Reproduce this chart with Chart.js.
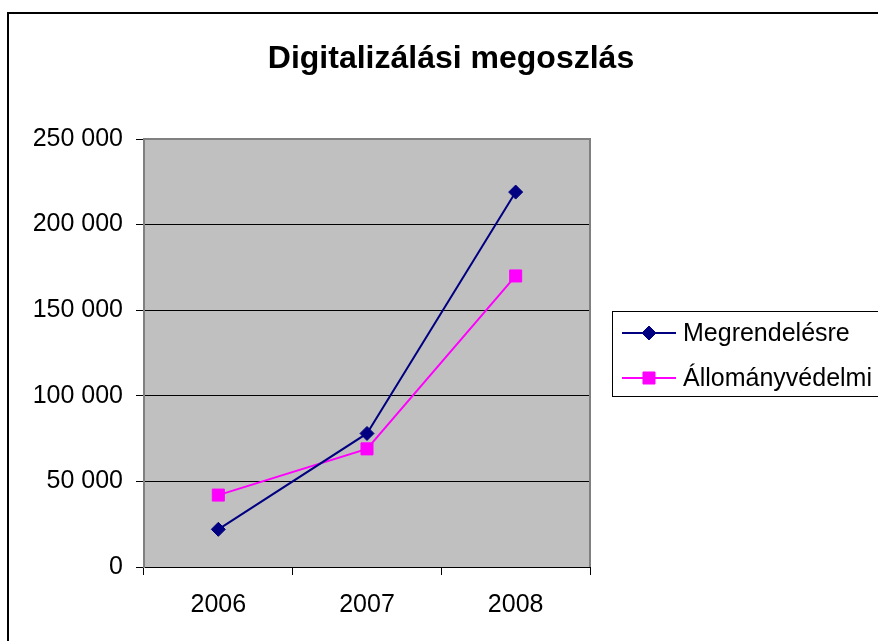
<!DOCTYPE html>
<html>
<head>
<meta charset="utf-8">
<script src="https://cdn.jsdelivr.net/npm/chart.js@4/dist/chart.umd.min.js"></script>
<style>
  html, body { margin: 0; padding: 0; background: #fff; }
  canvas { display: block; }
</style>
</head>
<body>
<canvas id="c" width="878" height="641"></canvas>
<script>
const TITLE = 'Digitalizálási megoszlás';
const categories = ['2006', '2007', '2008'];
const seriesNames = ['Megrendelésre', 'Állományvédelmi'];
const megrendelesre = [22000, 78000, 219000];
const allomanyvedelmi = [42000, 69000, 170000];
const yMin = 0, yMax = 250000, yStep = 50000;

const FONT = '"Liberation Sans", Arial, sans-serif';

function fmt(v) {
  return String(v).replace(/\B(?=(\d{3})+(?!\d))/g, ' ');
}

function marker(ctx, style, r, x, y, color) {
  ctx.save();
  ctx.fillStyle = color;
  ctx.strokeStyle = color;
  ctx.lineWidth = 1;
  ctx.beginPath();
  if (style === 'rectRot') {
    ctx.moveTo(x, y - r); ctx.lineTo(x + r, y); ctx.lineTo(x, y + r); ctx.lineTo(x - r, y);
  } else {
    const s = r * Math.SQRT1_2;
    ctx.rect(x - s, y - s, 2 * s, 2 * s);
  }
  ctx.closePath();
  ctx.fill();
  ctx.stroke();
  ctx.restore();
}

const decor = {
  id: 'decor',
  beforeDraw(chart) {
    const { ctx, chartArea: a } = chart;
    ctx.save();
    ctx.fillStyle = '#fff';
    ctx.fillRect(0, 0, chart.width, chart.height);
    ctx.fillStyle = '#C0C0C0';
    ctx.fillRect(a.left, a.top, a.right - a.left, a.bottom - a.top);
    ctx.restore();
  },
  beforeDatasetsDraw(chart) {
    const { ctx, chartArea: a } = chart;
    ctx.save();
    ctx.strokeStyle = '#808080';
    ctx.lineWidth = 2;
    ctx.beginPath();
    ctx.moveTo(a.left, a.top);
    ctx.lineTo(a.right, a.top);
    ctx.lineTo(a.right, a.bottom);
    ctx.stroke();
    ctx.restore();
  },
  afterDraw(chart) {
    const { ctx } = chart;
    ctx.save();
    // outer chart border
    ctx.strokeStyle = '#000';
    ctx.lineWidth = 2;
    ctx.strokeRect(8, 13, 1000, 1000);
    // title
    ctx.fillStyle = '#000';
    ctx.font = 'bold 32px ' + FONT;
    ctx.textAlign = 'center';
    ctx.textBaseline = 'alphabetic';
    ctx.fillText(TITLE, 451, 68);
    // legend
    ctx.fillStyle = '#fff';
    ctx.fillRect(612.5, 311.5, 400, 85);
    ctx.strokeStyle = '#000';
    ctx.lineWidth = 1;
    ctx.strokeRect(612.5, 311.5, 400, 85);
    ctx.font = '25px ' + FONT;
    ctx.textAlign = 'left';
    ctx.textBaseline = 'middle';
    chart.data.datasets.forEach((ds, i) => {
      const y = 333 + i * 45;
      ctx.strokeStyle = ds.borderColor;
      ctx.lineWidth = 2;
      ctx.beginPath();
      ctx.moveTo(622, y);
      ctx.lineTo(676, y);
      ctx.stroke();
      marker(ctx, ds.pointStyle, ds.pointRadius, 649, y, ds.pointBackgroundColor);
      ctx.fillStyle = '#000';
      ctx.fillText(ds.label, 683, y + 1);
    });
    ctx.restore();
  }
};

new Chart(document.getElementById('c'), {
  type: 'line',
  data: {
    labels: categories,
    datasets: [
      {
        label: seriesNames[0],
        data: megrendelesre,
        borderColor: '#000080',
        backgroundColor: '#000080',
        pointBackgroundColor: '#000080',
        pointBorderColor: '#000080',
        borderWidth: 2,
        pointStyle: 'rectRot',
        pointRadius: 7,
        pointBorderWidth: 1,
        tension: 0
      },
      {
        label: seriesNames[1],
        data: allomanyvedelmi,
        borderColor: '#FF00FF',
        backgroundColor: '#FF00FF',
        pointBackgroundColor: '#FF00FF',
        pointBorderColor: '#FF00FF',
        borderWidth: 2,
        pointStyle: 'rect',
        pointRadius: 8.5,
        pointBorderWidth: 1,
        tension: 0
      }
    ]
  },
  options: {
    responsive: false,
    animation: false,
    events: [],
    layout: { padding: { top: 139, right: 288, left: 0, bottom: 0 } },
    plugins: {
      legend: { display: false },
      title: { display: false },
      tooltip: { enabled: false }
    },
    scales: {
      x: {
        offset: true,
        grid: {
          offset: true,
          display: true,
          drawOnChartArea: false,
          drawTicks: true,
          tickLength: 8,
          tickColor: '#000',
          color: '#000'
        },
        border: { display: true, color: '#000', width: 1 },
        ticks: {
          color: '#000',
          font: { family: FONT, size: 25 },
          padding: 15,
          maxRotation: 0
        },
        afterFit(scale) { scale.height = 74; }
      },
      y: {
        min: yMin,
        max: yMax,
        ticks: {
          stepSize: yStep,
          color: '#000',
          font: { family: FONT, size: 25 },
          padding: 13,
          callback: (v) => fmt(v)
        },
        grid: {
          color: (c) => (c.tick && c.tick.value === yMax ? 'rgba(0,0,0,0)' : '#000'),
          tickColor: '#000',
          tickLength: 8,
          lineWidth: 1
        },
        border: { display: true, color: '#808080', width: 2 },
        afterFit(scale) { scale.width = 144; }
      }
    }
  },
  plugins: [decor]
});
</script>
</body>
</html>
